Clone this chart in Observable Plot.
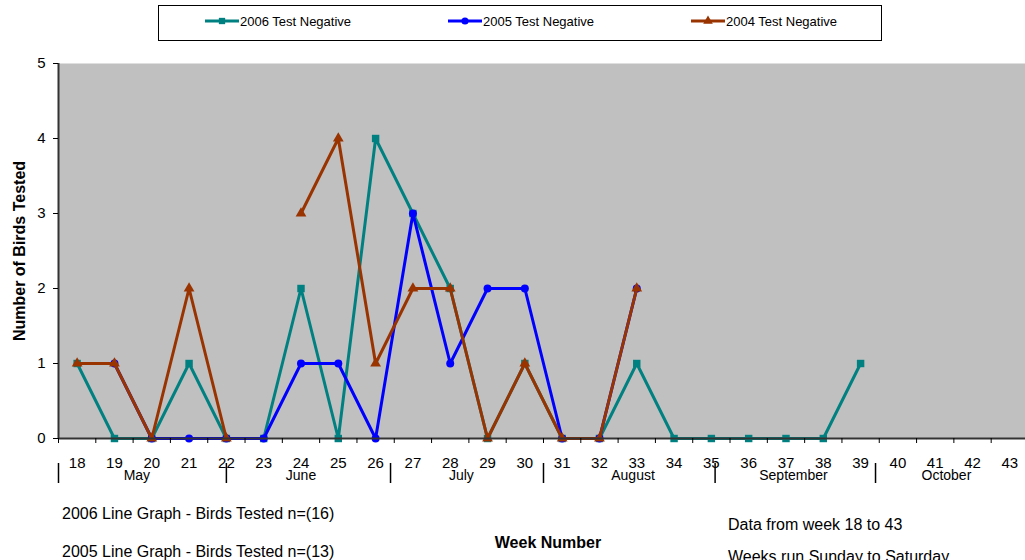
<!DOCTYPE html>
<html>
<head>
<meta charset="utf-8">
<script src="https://cdn.jsdelivr.net/npm/d3@7"></script>
<script src="https://cdn.jsdelivr.net/npm/@observablehq/plot@0.6"></script>
<style>
  body { margin: 0; background: #fff; font-family: "Liberation Sans", Arial, sans-serif; }
  #wrap { position: relative; width: 1025px; height: 560px; overflow: hidden; background: #fff; }
  #chart { position: absolute; left: 0; top: 0; }
  .note { position: absolute; font-size: 16px; line-height: 18px; color: #000; white-space: nowrap; }
  #legend { position: absolute; left: 158px; top: 5px; }
</style>
</head>
<body>
<div id="wrap">
  <div id="chart"></div>
  <svg id="legend" width="724" height="36"></svg>
  <div class="note" style="left:62px; top:505px;">2006 Line Graph - Birds Tested n=(16)</div>
  <div class="note" style="left:62px; top:543px;">2005 Line Graph - Birds Tested n=(13)</div>
  <div class="note" style="left:548px; top:534px; transform:translateX(-50%); font-weight:bold;">Week Number</div>
  <div class="note" style="left:728px; top:516px;">Data from week 18 to 43</div>
  <div class="note" style="left:728px; top:548px;">Weeks run Sunday to Saturday</div>
</div>
<script>
// ---- data ----
const weeks = [18,19,20,21,22,23,24,25,26,27,28,29,30,31,32,33,34,35,36,37,38,39,40,41,42,43];
const neg2006 = [1,0,0,1,0,0,2,0,4,3,2,0,1,0,0,1,0,0,0,0,0,1];          // weeks 18-39
const neg2005 = [null,1,0,0,0,0,1,1,0,3,1,2,2,0,0,2];                 // weeks 18-33
const neg2004 = [1,1,0,2,0,null,3,4,1,2,2,0,1,0,0,2];                 // weeks 18-33
const seriesNames = ["2006 Test Negative","2005 Test Negative","2004 Test Negative"];
const seriesColors = ["#008080","#0000ff","#993300"];
const seriesSymbols = ["square","circle","triangle"];
const months = ["May","June","July","August","September","October"];
const monthStart = [17.5,22.0,26.4,30.5,35.1,39.4];
const monthMid = [19.6,24.0,28.3,32.9,37.2,41.3];
const yTicks = [0,1,2,3,4,5];

// ---- build ----
const allValues = [neg2006, neg2005, neg2004];
const series = seriesNames.map((name, k) => ({
  name, color: seriesColors[k], symbol: seriesSymbols[k],
  rows: allValues[k].map((v, i) => ({week: weeks[i], value: v, series: name}))
}));
const weekBounds = weeks.map(w => w - 0.5);

const lineMarks = [];
series.forEach(s => {
  lineMarks.push(Plot.line(s.rows, {x: "week", y: "value", stroke: s.color, strokeWidth: 3, strokeLinejoin: "round"}));
  lineMarks.push(Plot.dot(s.rows, {x: "week", y: "value", fill: s.color, stroke: "none", symbol: s.symbol,
    r: s.symbol === "square" ? 4.2 : s.symbol === "circle" ? 4 : 4}));
});

const chart = Plot.plot({
  width: 1025,
  height: 560,
  marginLeft: 58,
  marginRight: 0,
  marginTop: 63,
  marginBottom: 122,
  style: {fontFamily: "Liberation Sans, Arial, sans-serif", background: "transparent", color: "#000"},
  x: {domain: [17.5, 43.42], axis: null},
  y: {domain: [0, 5], axis: null},
  marks: [
    Plot.frame({fill: "#c0c0c0", stroke: "none"}),
    ...lineMarks,
    Plot.ruleY([0], {stroke: "#333", strokeWidth: 2}),
    Plot.ruleX([17.5], {stroke: "#333", strokeWidth: 2}),
    Plot.axisY({ticks: yTicks, tickSize: 5, tickPadding: 8, fontSize: 15, label: null, stroke: "#000", tickFormat: d => String(d)}),
    Plot.axisX({ticks: weekBounds, tickSize: 5, tickFormat: () => "", label: null}),
    Plot.axisX({ticks: weeks, tickSize: 0, tickPadding: 19, fontSize: 15, label: null, tickFormat: d => String(d)}),
    Plot.tickX(monthStart, {x: d => d, stroke: "#000", strokeWidth: 1.5, insetTop: 355, dy: 45}),
    Plot.text(months, {x: (d, i) => monthMid[i], text: d => d, frameAnchor: "bottom", dy: 41, fontSize: 14}),
    Plot.text(["Number of Birds Tested"], {frameAnchor: "left", textAnchor: "middle", rotate: -90, dx: -39, fontWeight: "bold", fontSize: 16})
  ]
});
document.getElementById("chart").appendChild(chart);

// ---- legend ----
const leg = d3.select("#legend");
leg.append("rect").attr("x", 0.5).attr("y", 0.5).attr("width", 723).attr("height", 35)
  .attr("fill", "#fff").attr("stroke", "#000").attr("stroke-width", 1);
series.forEach((s, k) => {
  const x0 = 47 + k * 243;
  const g = leg.append("g").attr("transform", `translate(${x0},16)`);
  g.append("line").attr("x1", 0).attr("x2", 34).attr("y1", 0).attr("y2", 0)
    .attr("stroke", s.color).attr("stroke-width", 3);
  const sym = s.symbol === "square" ? d3.symbolSquare : s.symbol === "circle" ? d3.symbolCircle : d3.symbolTriangle;
  g.append("path").attr("d", d3.symbol(sym, 40)()).attr("transform", "translate(17,0)").attr("fill", s.color);
  g.append("text").attr("x", 35).attr("y", 0).attr("dy", "0.35em")
    .attr("font-size", 13).attr("font-family", "Liberation Sans, Arial, sans-serif")
    .text(s.name);
});
</script>
</body>
</html>
